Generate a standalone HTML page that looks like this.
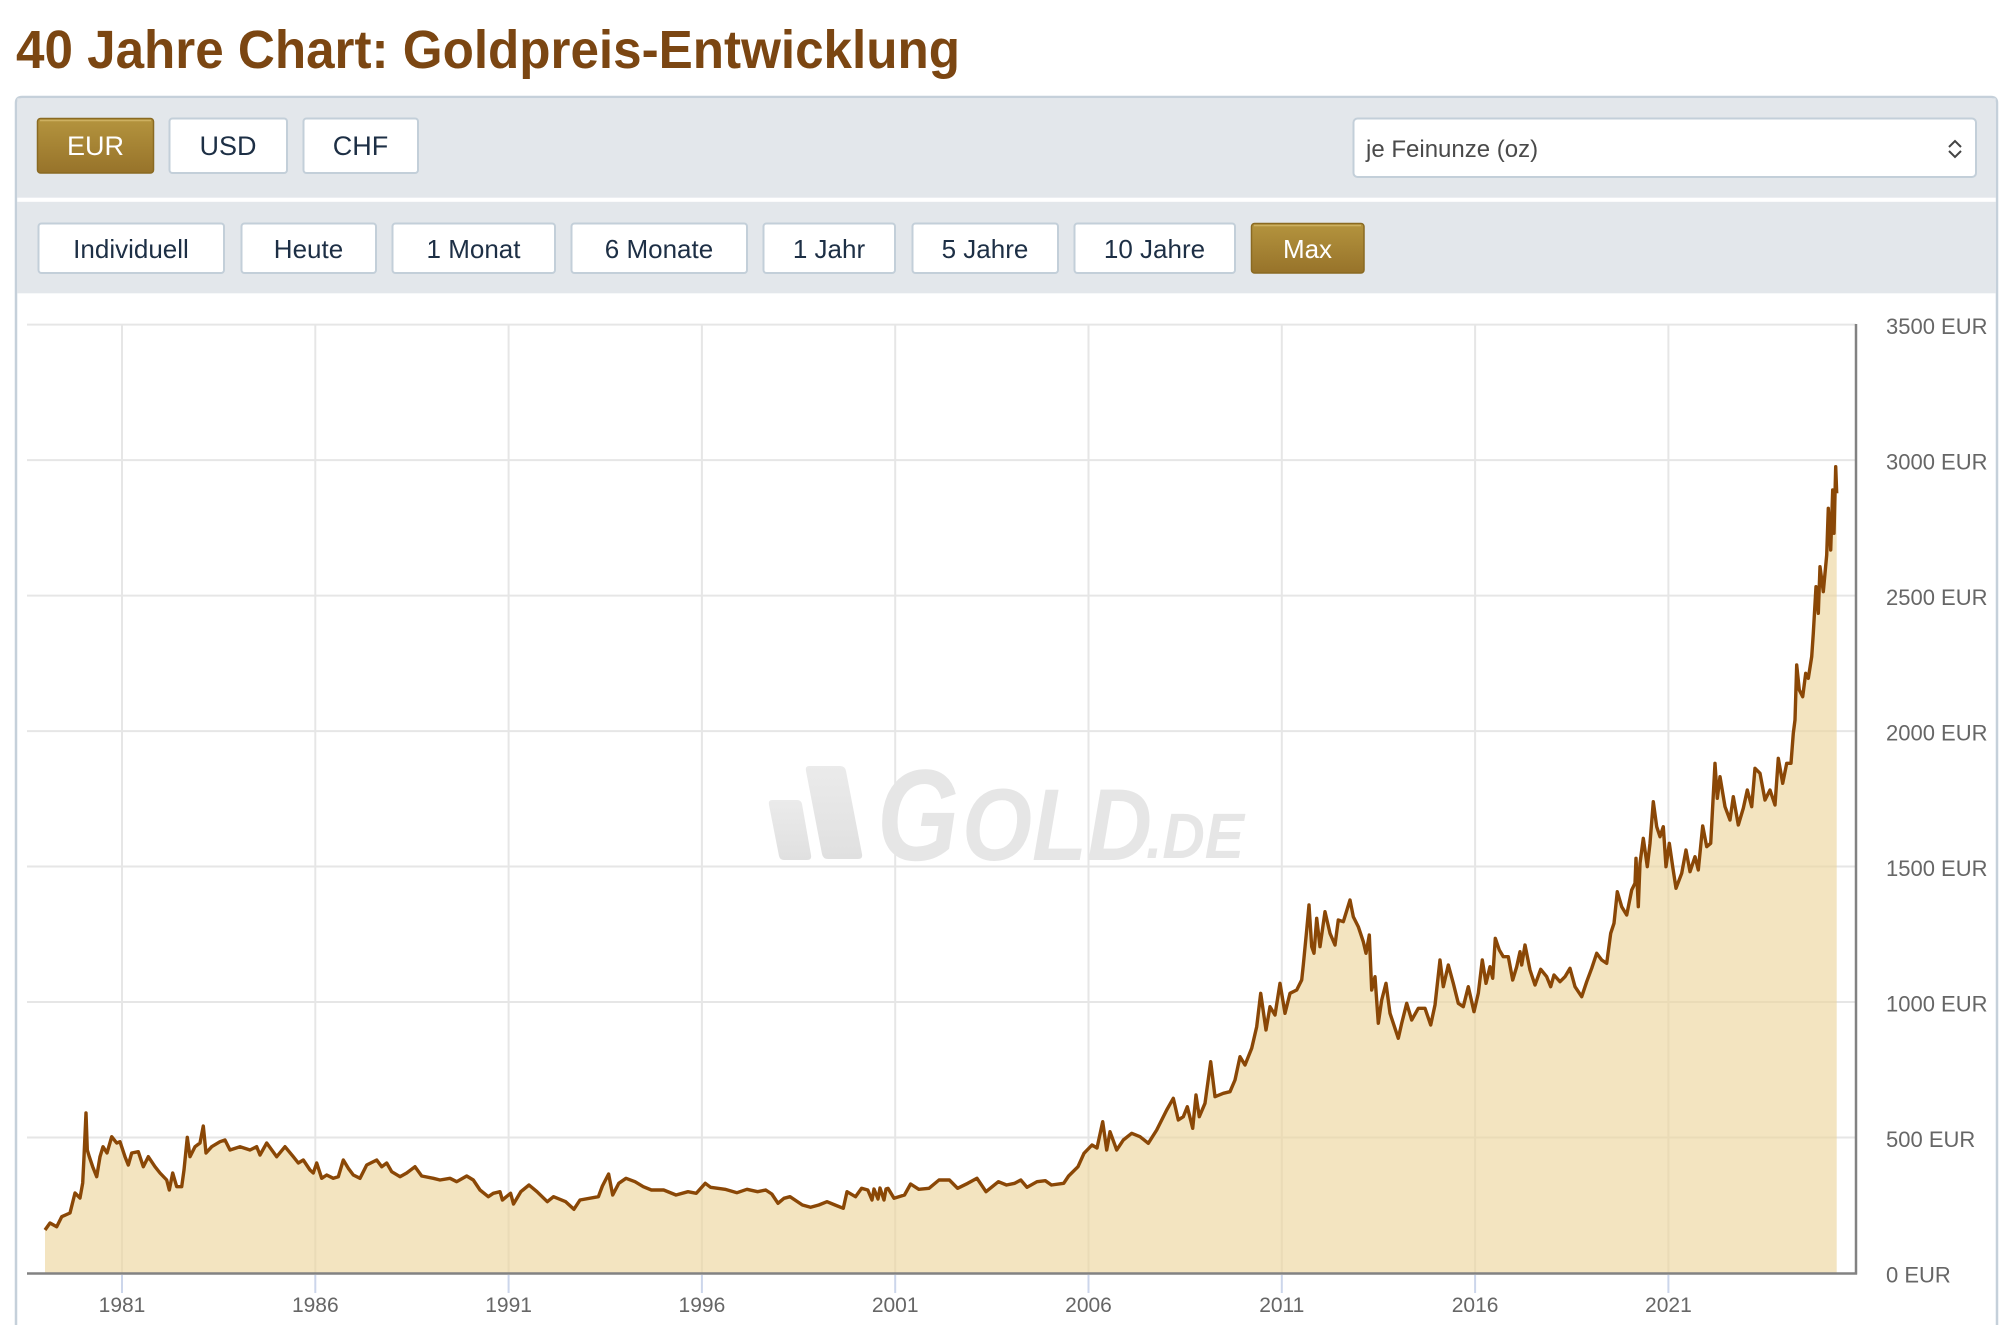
<!DOCTYPE html>
<html>
<head>
<meta charset="utf-8">
<style>
html,body{margin:0;padding:0;background:#fff;width:2009px;height:1325px;overflow:hidden;}
svg{display:block;}
</style>
</head>
<body>
<svg width="2009" height="1325" viewBox="0 0 2009 1325" xmlns="http://www.w3.org/2000/svg" font-family="'Liberation Sans', sans-serif" overflow="hidden">
<defs>
<linearGradient id="gold" x1="0" y1="0" x2="0" y2="1">
<stop offset="0" stop-color="#b4943e"/>
<stop offset="1" stop-color="#97732a"/>
</linearGradient>
<linearGradient id="wm" x1="0" y1="0" x2="0" y2="1">
<stop offset="0" stop-color="#ebebeb"/>
<stop offset="1" stop-color="#e0e0e0"/>
</linearGradient>
</defs>

<!-- Title -->
<text x="16" y="68" font-size="54" font-weight="bold" fill="#7b4612" textLength="944" lengthAdjust="spacingAndGlyphs">40 Jahre Chart: Goldpreis-Entwicklung</text>

<!-- Panel -->
<path d="M16,1325 L16,103 Q16,97 22,97 L1991,97 Q1997,97 1997,103 L1997,1325" fill="#ffffff" stroke="#c5d0da" stroke-width="2.5"/>
<rect x="17.3" y="98.3" width="1978.4" height="99.5" fill="#e3e7eb"/>
<rect x="17.3" y="197.8" width="1978.4" height="4" fill="#ffffff"/>
<rect x="17.3" y="201.8" width="1978.4" height="91.5" fill="#e3e7eb"/>

<!-- Row 1 buttons -->
<rect x="37.5" y="118.5" width="116" height="54.5" rx="3" fill="url(#gold)" stroke="#8a6a22" stroke-width="1.5"/>
<line x1="40" y1="120.5" x2="151" y2="120.5" stroke="#cdb060" stroke-width="1.5"/>
<text x="95.5" y="155" font-size="27" fill="#ffffff" text-anchor="middle">EUR</text>
<rect x="169.5" y="118.5" width="117.5" height="54.5" rx="3" fill="#ffffff" stroke="#c3cfd9" stroke-width="2"/>
<text x="228" y="155" font-size="27" fill="#1d2f45" text-anchor="middle">USD</text>
<rect x="303.5" y="118.5" width="114.5" height="54.5" rx="3" fill="#ffffff" stroke="#c3cfd9" stroke-width="2"/>
<text x="360.5" y="155" font-size="27" fill="#1d2f45" text-anchor="middle">CHF</text>

<!-- Dropdown -->
<rect x="1353.5" y="118.5" width="622.5" height="58.5" rx="4" fill="#ffffff" stroke="#c3cfd9" stroke-width="2"/>
<text x="1366" y="157" font-size="24" fill="#4a4a4a">je Feinunze (oz)</text>
<polyline points="1949,147 1955,141 1961,147" fill="none" stroke="#444" stroke-width="2"/>
<polyline points="1949,151 1955,157 1961,151" fill="none" stroke="#444" stroke-width="2"/>

<!-- Row 2 buttons -->
<g font-size="26" fill="#1d2f45" text-anchor="middle">
<rect x="38.5" y="223.5" width="185.5" height="49.5" rx="3" fill="#fff" stroke="#c3cfd9" stroke-width="2"/>
<text x="131" y="258">Individuell</text>
<rect x="241.5" y="223.5" width="134.5" height="49.5" rx="3" fill="#fff" stroke="#c3cfd9" stroke-width="2"/>
<text x="308.5" y="258">Heute</text>
<rect x="392.5" y="223.5" width="162.5" height="49.5" rx="3" fill="#fff" stroke="#c3cfd9" stroke-width="2"/>
<text x="473.5" y="258">1 Monat</text>
<rect x="571.5" y="223.5" width="175.5" height="49.5" rx="3" fill="#fff" stroke="#c3cfd9" stroke-width="2"/>
<text x="659" y="258">6 Monate</text>
<rect x="763.5" y="223.5" width="131.5" height="49.5" rx="3" fill="#fff" stroke="#c3cfd9" stroke-width="2"/>
<text x="829" y="258">1 Jahr</text>
<rect x="912.5" y="223.5" width="145.5" height="49.5" rx="3" fill="#fff" stroke="#c3cfd9" stroke-width="2"/>
<text x="985" y="258">5 Jahre</text>
<rect x="1074.5" y="223.5" width="160.5" height="49.5" rx="3" fill="#fff" stroke="#c3cfd9" stroke-width="2"/>
<text x="1154.5" y="258">10 Jahre</text>
</g>
<rect x="1251.5" y="223.5" width="112.5" height="49.5" rx="3" fill="url(#gold)" stroke="#8a6a22" stroke-width="1.5"/>
<line x1="1254" y1="225.5" x2="1361" y2="225.5" stroke="#cdb060" stroke-width="1.5"/>
<text x="1307.5" y="258" font-size="26" fill="#ffffff" text-anchor="middle">Max</text>

<!-- Watermark -->
<g>
<path d="M772,800 L797,800 Q801,800 802,804 L811,855 Q812,860 807,860 L784,860 Q780,860 779,856 L769,805 Q768,800 772,800 Z" fill="url(#wm)"/>
<path d="M809,766 L840,766 Q845,766 846,771 L862,854 Q863,859 858,859 L828,859 Q823,859 822,854 L806,771 Q805,766 809,766 Z" fill="url(#wm)"/>
<text x="877" y="860" font-size="130" font-weight="bold" font-style="italic" fill="#e6e6e6" textLength="82" lengthAdjust="spacingAndGlyphs">G</text>
<text x="962" y="860" font-size="102" font-weight="bold" font-style="italic" fill="#e6e6e6" textLength="190" lengthAdjust="spacingAndGlyphs">OLD</text>
<text x="1146" y="858" font-size="64" font-weight="bold" font-style="italic" fill="#e6e6e6" textLength="98" lengthAdjust="spacingAndGlyphs">.DE</text>
</g>

<!-- Grid -->
<g stroke="#e6e6e6" stroke-width="2">
<line x1="27" y1="324.6" x2="1856" y2="324.6"/>
<line x1="27" y1="460.1" x2="1856" y2="460.1"/>
<line x1="27" y1="595.6" x2="1856" y2="595.6"/>
<line x1="27" y1="731.1" x2="1856" y2="731.1"/>
<line x1="27" y1="866.5" x2="1856" y2="866.5"/>
<line x1="27" y1="1002" x2="1856" y2="1002"/>
<line x1="27" y1="1137.5" x2="1856" y2="1137.5"/>
<line x1="122" y1="324" x2="122" y2="1273"/>
<line x1="315.3" y1="324" x2="315.3" y2="1273"/>
<line x1="508.6" y1="324" x2="508.6" y2="1273"/>
<line x1="701.9" y1="324" x2="701.9" y2="1273"/>
<line x1="895.2" y1="324" x2="895.2" y2="1273"/>
<line x1="1088.5" y1="324" x2="1088.5" y2="1273"/>
<line x1="1281.8" y1="324" x2="1281.8" y2="1273"/>
<line x1="1475.1" y1="324" x2="1475.1" y2="1273"/>
<line x1="1668.4" y1="324" x2="1668.4" y2="1273"/>
</g>

<!-- Series -->
<polygon fill="#ecd49a" fill-opacity="0.62" points="45,1273 45,1230 50,1223 56.7,1226.7 61.7,1216.7 70,1213 75,1193 80,1198 82.7,1183 84,1157 86,1113 87.3,1150 89.3,1156.7 92.7,1166.7 96.7,1176.7 100,1156.7 103,1146.7 107,1153 111.7,1136.7 116.7,1143 120,1141.7 125,1156.7 128.3,1165 131.7,1153 138.3,1151.7 143.3,1166.7 148.3,1156.7 155,1166.7 160,1173 166.7,1180 169.3,1190 172.7,1173 176.7,1186.7 181.7,1186.7 184,1170 187.3,1137.3 190,1156.7 195,1146.7 200,1143 203.3,1126 206,1153 211.7,1146.7 220,1141.7 225,1140 230,1150 240,1146.7 250,1150 256.7,1146.7 260,1155 266.7,1143 276.7,1156.7 285,1146.7 293.3,1156.7 298.3,1163 303.3,1160 310,1170 313.3,1173 316.7,1163 321.7,1178.3 326.7,1175 333.3,1178.3 338.3,1176.7 343.3,1160 348.3,1168.3 353.3,1175 360,1178.3 366.7,1165 376.7,1160 381.7,1166.7 386.7,1163 391.7,1171.7 400,1176.7 406.7,1173 415,1166.7 421.7,1176 433.3,1178.3 440,1180 450,1178.3 456.7,1181.7 466.7,1176 473.3,1180 480,1190 488.3,1196.7 493.3,1193.3 500,1191.7 502.4,1200 510.6,1193.3 513.5,1204 520.8,1191.7 529,1185 537,1191.7 547.3,1201.7 553.5,1196.7 565.7,1201.7 573.9,1209.3 580,1200 598.4,1196.7 602.4,1186 608.6,1174 612.7,1195 618.8,1183.3 626,1178.3 635,1181.7 643.3,1186.7 651.4,1190 663.7,1190 676,1195 688,1191.7 696.3,1193.3 705.3,1183.3 710.6,1187.3 725,1189.3 737,1192.7 747,1189.3 757.6,1191.7 765.7,1190 771.8,1194 778,1203.3 784,1198.3 790,1196.7 802.4,1205 810.6,1207.3 818.8,1205 827,1201.7 835,1205 843.3,1208.3 847,1191.7 855.5,1196.7 861.6,1188.3 867.8,1190 872,1200 874,1189 878,1199 880,1188 884,1200 886,1189 888,1188.3 894,1198.3 904.5,1195 910.6,1184 918.8,1189.3 929,1188.3 939,1180 949.4,1180 957.6,1188.3 967.8,1183.3 977,1178.3 986,1191.7 998.4,1181.7 1006.5,1185 1014.7,1183.3 1020.8,1180 1027,1187.3 1037,1181.7 1045.3,1180.7 1051.4,1185 1063.7,1183.3 1068.6,1176 1078,1166.7 1084,1153.3 1092,1145 1097,1148 1102.7,1121.7 1106.7,1150 1110,1131.7 1116.7,1150 1123.3,1140 1131.7,1133.3 1140,1136.7 1148.3,1143.3 1156.7,1130 1161.7,1120 1166.7,1110 1173.3,1098.3 1178.3,1120 1183.3,1116.7 1187.3,1106.7 1192.7,1128.3 1196,1095 1199.3,1116.7 1205,1103.3 1210.7,1061.7 1215,1096.7 1223.3,1093.3 1230,1091.7 1235,1080 1240,1056.7 1245,1065 1251.7,1048.3 1256.7,1026.7 1260.7,993.3 1266,1030 1270,1006.7 1275,1015 1280,983.3 1285,1013.3 1290,993.3 1296.7,990 1301.7,980 1303.3,965 1306.7,930 1309,905 1311.7,946.7 1314,953.3 1316.7,918.3 1320,946.7 1325,911.7 1330,933.3 1335,945 1338.3,920 1343.3,921.7 1350,900 1353.3,916.7 1358.3,926.7 1363.3,941.7 1366,953.3 1369.3,935 1371.7,990 1375,976.7 1378.3,1023.3 1381.7,1000 1386,983.3 1390,1013.3 1398.3,1038.3 1401.7,1023.3 1406.7,1003.3 1411.7,1020 1418.3,1008.3 1425,1008.3 1430.7,1025 1435,1005 1440,960 1443.3,986.7 1448.3,965 1453.3,983.3 1458.3,1003.3 1463.3,1006.7 1468.3,986.7 1474,1011.7 1478.3,993.3 1482.3,960 1486,983.3 1490,966.7 1492.7,978.3 1495.3,938.3 1499.3,950 1503.3,956.7 1508.3,956.7 1512.7,980 1516.7,966.7 1520,951.7 1521.7,965 1525,945 1530,970 1535,985 1540.7,969.3 1546.7,976.7 1550.7,986.7 1554,975 1560,981.7 1565,976.7 1570,968.3 1575,986.7 1581.7,996.7 1586.7,981.7 1591.7,968.3 1596.7,953.3 1601.7,960 1606.7,963.3 1610.7,933.3 1614,923.3 1617.3,891.7 1621.7,906.7 1626.7,915 1631.7,890 1635,883.3 1636,858.3 1638.3,906.7 1640,863.3 1643.3,838.3 1647.3,866.7 1650,843.3 1653.3,801.7 1656.7,826.7 1660,836.7 1663.3,826.7 1666,866.7 1669.3,843.3 1672.7,866.7 1676,888.3 1681.7,873.3 1686,850 1690,871.7 1695,856.7 1698.3,870 1702.7,826 1706.7,846.7 1710.7,843.3 1715,763.3 1717.3,798.3 1720,776.7 1725,806.7 1730,820 1733.3,796.7 1738.3,825 1743.3,808.3 1747.3,790 1751.7,806.7 1755,768.3 1760,773.3 1765,800 1770,790 1775,805 1778.3,758.3 1782.7,783.3 1786.7,763.3 1791,763.3 1793.3,733.3 1795,720 1796.7,665 1799.3,690 1802.7,696.7 1805.7,673.3 1808.3,678.3 1811.7,656.7 1813.3,633.3 1816,586.7 1818.3,613.3 1820,566.7 1823.3,591.7 1826.7,555 1828.3,508.3 1830.7,550 1832.7,490 1834,533.3 1835.7,466.7 1836.7,493.3 1836.7,1273"/>
<polyline fill="none" stroke="#8a4706" stroke-width="3.4" stroke-linejoin="round" points="45,1230 50,1223 56.7,1226.7 61.7,1216.7 70,1213 75,1193 80,1198 82.7,1183 84,1157 86,1113 87.3,1150 89.3,1156.7 92.7,1166.7 96.7,1176.7 100,1156.7 103,1146.7 107,1153 111.7,1136.7 116.7,1143 120,1141.7 125,1156.7 128.3,1165 131.7,1153 138.3,1151.7 143.3,1166.7 148.3,1156.7 155,1166.7 160,1173 166.7,1180 169.3,1190 172.7,1173 176.7,1186.7 181.7,1186.7 184,1170 187.3,1137.3 190,1156.7 195,1146.7 200,1143 203.3,1126 206,1153 211.7,1146.7 220,1141.7 225,1140 230,1150 240,1146.7 250,1150 256.7,1146.7 260,1155 266.7,1143 276.7,1156.7 285,1146.7 293.3,1156.7 298.3,1163 303.3,1160 310,1170 313.3,1173 316.7,1163 321.7,1178.3 326.7,1175 333.3,1178.3 338.3,1176.7 343.3,1160 348.3,1168.3 353.3,1175 360,1178.3 366.7,1165 376.7,1160 381.7,1166.7 386.7,1163 391.7,1171.7 400,1176.7 406.7,1173 415,1166.7 421.7,1176 433.3,1178.3 440,1180 450,1178.3 456.7,1181.7 466.7,1176 473.3,1180 480,1190 488.3,1196.7 493.3,1193.3 500,1191.7 502.4,1200 510.6,1193.3 513.5,1204 520.8,1191.7 529,1185 537,1191.7 547.3,1201.7 553.5,1196.7 565.7,1201.7 573.9,1209.3 580,1200 598.4,1196.7 602.4,1186 608.6,1174 612.7,1195 618.8,1183.3 626,1178.3 635,1181.7 643.3,1186.7 651.4,1190 663.7,1190 676,1195 688,1191.7 696.3,1193.3 705.3,1183.3 710.6,1187.3 725,1189.3 737,1192.7 747,1189.3 757.6,1191.7 765.7,1190 771.8,1194 778,1203.3 784,1198.3 790,1196.7 802.4,1205 810.6,1207.3 818.8,1205 827,1201.7 835,1205 843.3,1208.3 847,1191.7 855.5,1196.7 861.6,1188.3 867.8,1190 872,1200 874,1189 878,1199 880,1188 884,1200 886,1189 888,1188.3 894,1198.3 904.5,1195 910.6,1184 918.8,1189.3 929,1188.3 939,1180 949.4,1180 957.6,1188.3 967.8,1183.3 977,1178.3 986,1191.7 998.4,1181.7 1006.5,1185 1014.7,1183.3 1020.8,1180 1027,1187.3 1037,1181.7 1045.3,1180.7 1051.4,1185 1063.7,1183.3 1068.6,1176 1078,1166.7 1084,1153.3 1092,1145 1097,1148 1102.7,1121.7 1106.7,1150 1110,1131.7 1116.7,1150 1123.3,1140 1131.7,1133.3 1140,1136.7 1148.3,1143.3 1156.7,1130 1161.7,1120 1166.7,1110 1173.3,1098.3 1178.3,1120 1183.3,1116.7 1187.3,1106.7 1192.7,1128.3 1196,1095 1199.3,1116.7 1205,1103.3 1210.7,1061.7 1215,1096.7 1223.3,1093.3 1230,1091.7 1235,1080 1240,1056.7 1245,1065 1251.7,1048.3 1256.7,1026.7 1260.7,993.3 1266,1030 1270,1006.7 1275,1015 1280,983.3 1285,1013.3 1290,993.3 1296.7,990 1301.7,980 1303.3,965 1306.7,930 1309,905 1311.7,946.7 1314,953.3 1316.7,918.3 1320,946.7 1325,911.7 1330,933.3 1335,945 1338.3,920 1343.3,921.7 1350,900 1353.3,916.7 1358.3,926.7 1363.3,941.7 1366,953.3 1369.3,935 1371.7,990 1375,976.7 1378.3,1023.3 1381.7,1000 1386,983.3 1390,1013.3 1398.3,1038.3 1401.7,1023.3 1406.7,1003.3 1411.7,1020 1418.3,1008.3 1425,1008.3 1430.7,1025 1435,1005 1440,960 1443.3,986.7 1448.3,965 1453.3,983.3 1458.3,1003.3 1463.3,1006.7 1468.3,986.7 1474,1011.7 1478.3,993.3 1482.3,960 1486,983.3 1490,966.7 1492.7,978.3 1495.3,938.3 1499.3,950 1503.3,956.7 1508.3,956.7 1512.7,980 1516.7,966.7 1520,951.7 1521.7,965 1525,945 1530,970 1535,985 1540.7,969.3 1546.7,976.7 1550.7,986.7 1554,975 1560,981.7 1565,976.7 1570,968.3 1575,986.7 1581.7,996.7 1586.7,981.7 1591.7,968.3 1596.7,953.3 1601.7,960 1606.7,963.3 1610.7,933.3 1614,923.3 1617.3,891.7 1621.7,906.7 1626.7,915 1631.7,890 1635,883.3 1636,858.3 1638.3,906.7 1640,863.3 1643.3,838.3 1647.3,866.7 1650,843.3 1653.3,801.7 1656.7,826.7 1660,836.7 1663.3,826.7 1666,866.7 1669.3,843.3 1672.7,866.7 1676,888.3 1681.7,873.3 1686,850 1690,871.7 1695,856.7 1698.3,870 1702.7,826 1706.7,846.7 1710.7,843.3 1715,763.3 1717.3,798.3 1720,776.7 1725,806.7 1730,820 1733.3,796.7 1738.3,825 1743.3,808.3 1747.3,790 1751.7,806.7 1755,768.3 1760,773.3 1765,800 1770,790 1775,805 1778.3,758.3 1782.7,783.3 1786.7,763.3 1791,763.3 1793.3,733.3 1795,720 1796.7,665 1799.3,690 1802.7,696.7 1805.7,673.3 1808.3,678.3 1811.7,656.7 1813.3,633.3 1816,586.7 1818.3,613.3 1820,566.7 1823.3,591.7 1826.7,555 1828.3,508.3 1830.7,550 1832.7,490 1834,533.3 1835.7,466.7 1836.7,493.3"/>

<!-- Axes -->
<line x1="27" y1="1273.5" x2="1857" y2="1273.5" stroke="#828282" stroke-width="2.5"/>
<line x1="1856" y1="324" x2="1856" y2="1274.5" stroke="#828282" stroke-width="2.5"/>
<g stroke="#ccd6eb" stroke-width="2">
<line x1="122" y1="1275" x2="122" y2="1293"/>
<line x1="315.3" y1="1275" x2="315.3" y2="1293"/>
<line x1="508.6" y1="1275" x2="508.6" y2="1293"/>
<line x1="701.9" y1="1275" x2="701.9" y2="1293"/>
<line x1="895.2" y1="1275" x2="895.2" y2="1293"/>
<line x1="1088.5" y1="1275" x2="1088.5" y2="1293"/>
<line x1="1281.8" y1="1275" x2="1281.8" y2="1293"/>
<line x1="1475.1" y1="1275" x2="1475.1" y2="1293"/>
<line x1="1668.4" y1="1275" x2="1668.4" y2="1293"/>
</g>

<!-- X labels -->
<g font-size="21" fill="#666666" text-anchor="middle">
<text x="122" y="1312">1981</text>
<text x="315.3" y="1312">1986</text>
<text x="508.6" y="1312">1991</text>
<text x="701.9" y="1312">1996</text>
<text x="895.2" y="1312">2001</text>
<text x="1088.5" y="1312">2006</text>
<text x="1281.8" y="1312">2011</text>
<text x="1475.1" y="1312">2016</text>
<text x="1668.4" y="1312">2021</text>
</g>

<!-- Y labels -->
<g font-size="22" fill="#666666">
<text x="1886" y="334">3500 EUR</text>
<text x="1886" y="469.5">3000 EUR</text>
<text x="1886" y="605">2500 EUR</text>
<text x="1886" y="740.5">2000 EUR</text>
<text x="1886" y="876">1500 EUR</text>
<text x="1886" y="1011.5">1000 EUR</text>
<text x="1886" y="1147">500 EUR</text>
<text x="1886" y="1282.5">0 EUR</text>
</g>
</svg>
</body>
</html>
